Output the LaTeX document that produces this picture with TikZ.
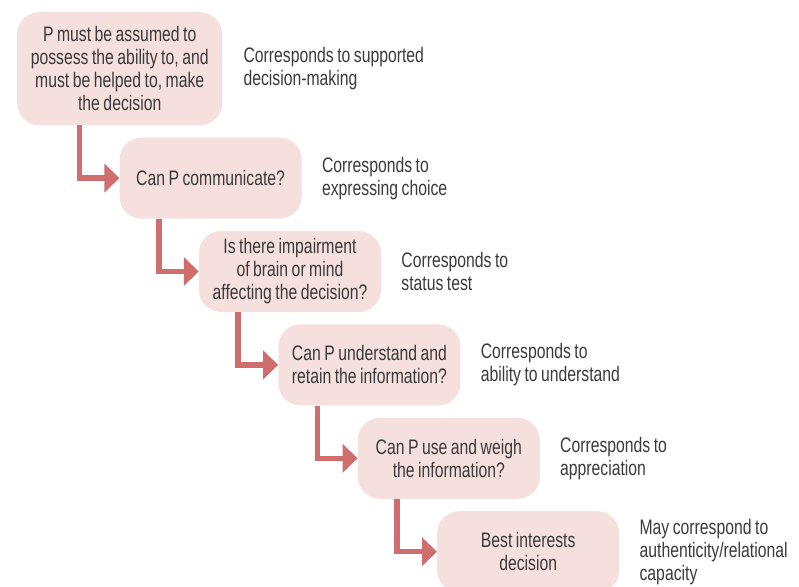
\documentclass[tikz,border=0pt]{standalone}
\usepackage{fontspec}
\setmainfont[FakeStretch=0.75, WordSpace=0.8]{Liberation Sans}
\usepackage{xcolor}
\usetikzlibrary{positioning, arrows.meta}

\definecolor{boxpink}{HTML}{F5E0DE}
\definecolor{arrowred}{HTML}{D06D6D}
\definecolor{textgrey}{HTML}{3A3A3A}

\begin{document}
\begin{tikzpicture}[x=1pt, y=1pt, node distance=12pt and -103pt,
    font=\fontsize{21}{23}\selectfont, text=textgrey,
    stepbox/.style={fill=boxpink, rounded corners=22pt, align=center,
        minimum width=182pt, minimum height=81pt, inner sep=3pt},
    note/.style={align=left, inner sep=0pt, anchor=west},
    flow/.style={draw=arrowred, line width=5.5pt, -{Triangle[length=15pt, width=28pt]}}]
    \useasboundingbox (0,0) rectangle (799,-586);
    \node[stepbox, minimum width=205pt, minimum height=113pt, anchor=north west] (assume) at (17,-12)
        {P must be assumed to\\possess the ability to, and\\must be helped to, make\\the decision};
    \node[stepbox] (communicate) [below right = of assume] {Can P communicate?};
    \node[stepbox] (impairment) [below right = of communicate] {Is there impairment\\of brain or mind\\affecting the decision?};
    \node[stepbox] (understand) [below right = of impairment] {Can P understand and\\retain the information?};
    \node[stepbox] (weigh) [below right = of understand] {Can P use and weigh\\the information?};
    \node[stepbox] (interests) [below right = of weigh] {Best interests\\decision};
    % what each step corresponds to
    \node[note] (assumenote) [right = 21pt of assume] {Corresponds to supported\\decision-making};
    \node[note] (communicatenote) [right = 20pt of communicate] {Corresponds to\\expressing choice};
    \node[note] (impairmentnote) [right = 20pt of impairment] {Corresponds to\\status test};
    \node[note] (understandnote) [right = 20pt of understand] {Corresponds to\\ability to understand};
    \node[note] (weighnote) [right = 20pt of weigh] {Corresponds to\\appreciation};
    \node[note] (interestsnote) [right = 20pt of interests] {May correspond to\\authenticity/relational\\capacity};
    % arrows
    \draw[flow] ([xshift=-40pt]communicate.west |- assume.south) |- (communicate.west);
    \draw[flow] ([xshift=-40pt]impairment.west |- communicate.south) |- (impairment.west);
    \draw[flow] ([xshift=-40pt]understand.west |- impairment.south) |- (understand.west);
    \draw[flow] ([xshift=-40pt]weigh.west |- understand.south) |- (weigh.west);
    \draw[flow] ([xshift=-40pt]interests.west |- weigh.south) |- (interests.west);
\end{tikzpicture}
\end{document}
